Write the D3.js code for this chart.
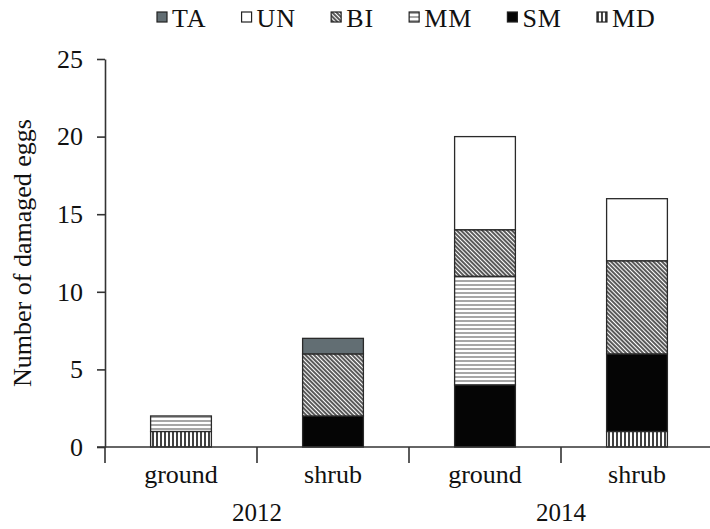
<!DOCTYPE html>
<html>
<head>
<meta charset="utf-8">
<script src="https://cdn.jsdelivr.net/npm/d3@7"></script>
<style>
  body { margin: 0; background: #fff; }
  svg, svg text { font-family: 'Liberation Serif', 'Times New Roman', Times, serif; }
</style>
</head>
<body>
<svg id="chart"></svg>
<script>
// categories
const years = ['2012', '2012', '2014', '2014']
const habitats = ['ground', 'shrub', 'ground', 'shrub']
const yTicks = [0, 5, 10, 15, 20, 25]

// stacked series, bottom to top
const seriesNames = ['MD', 'SM', 'MM', 'BI', 'UN', 'TA']
const MD = [1, 0, 0, 1]
const SM = [0, 2, 4, 5]
const MM = [1, 0, 7, 0]
const BI = [0, 4, 3, 6]
const UN = [0, 0, 6, 4]
const TA = [0, 1, 0, 0]
const legendOrder = ['TA', 'UN', 'BI', 'MM', 'SM', 'MD']

const width = 710
const height = 529
const serif = "'Liberation Serif', 'Times New Roman', Times, serif"

const values = { MD, SM, MM, BI, UN, TA }
const rows = habitats.map((h, i) => {
    const r = { key: years[i] + ' ' + h }
    seriesNames.forEach(s => r[s] = values[s][i])
    return r
})

const svg = d3.select('#chart')
    .attr('width', width)
    .attr('height', height)
    .attr('font-family', serif)

// patterns
const defs = svg.append('defs')

const md = defs.append('pattern').attr('id', 'p-MD')
    .attr('patternUnits', 'userSpaceOnUse').attr('width', 4).attr('height', 4)
md.append('rect').attr('width', 4).attr('height', 4).attr('fill', '#fff')
md.append('line').attr('x1', 1).attr('x2', 1).attr('y1', 0).attr('y2', 4)
    .attr('stroke', '#111').attr('stroke-width', 1.6)

const mm = defs.append('pattern').attr('id', 'p-MM')
    .attr('patternUnits', 'userSpaceOnUse').attr('width', 4).attr('height', 4)
mm.append('rect').attr('width', 4).attr('height', 4).attr('fill', '#fff')
mm.append('line').attr('x1', 0).attr('x2', 4).attr('y1', 1).attr('y2', 1)
    .attr('stroke', '#777').attr('stroke-width', 1.3)

const bi = defs.append('pattern').attr('id', 'p-BI')
    .attr('patternUnits', 'userSpaceOnUse').attr('width', 3).attr('height', 3)
    .attr('patternTransform', 'rotate(-45)')
bi.append('rect').attr('width', 3).attr('height', 3).attr('fill', '#fff')
bi.append('line').attr('x1', 1).attr('x2', 1).attr('y1', 0).attr('y2', 3)
    .attr('stroke', '#222').attr('stroke-width', 1.5)

const fills = {
    MD: 'url(#p-MD)',
    SM: '#050505',
    MM: 'url(#p-MM)',
    BI: 'url(#p-BI)',
    UN: '#ffffff',
    TA: '#626e73'
}

const x = d3.scaleBand()
    .domain(rows.map(d => d.key))
    .range([105, 713])
    .paddingInner(0.6)
    .paddingOuter(0.3)

const y = d3.scaleLinear()
    .domain([0, 25])
    .range([447, 59])

const stacked = d3.stack().keys(seriesNames)(rows)

// bars
svg.append('g')
    .selectAll('g')
    .data(stacked)
    .join('g')
    .attr('fill', d => fills[d.key])
    .selectAll('rect')
    .data(d => d.filter(p => p[1] - p[0] > 0))
    .join('rect')
    .attr('x', d => x(d.data.key))
    .attr('width', x.bandwidth())
    .attr('y', d => y(d[1]))
    .attr('height', d => y(d[0]) - y(d[1]))
    .attr('stroke', '#2a2a2a')
    .attr('stroke-width', 1.3)

// y axis
const yAxis = svg.append('g')
    .attr('transform', 'translate(105,0)')
    .call(d3.axisLeft(y).tickValues(yTicks).tickSize(8).tickSizeOuter(0).tickPadding(14))
yAxis.attr('font-family', serif).attr('font-size', 26)
yAxis.selectAll('path, line').attr('stroke', '#333').attr('stroke-width', 1.6)
yAxis.selectAll('text').attr('fill', '#111')

// x axis line and separators
const step = x.step()
const left = x.range()[0]
svg.append('line')
    .attr('x1', 97).attr('x2', x.range()[1])
    .attr('y1', y(0)).attr('y2', y(0))
    .attr('stroke', '#333').attr('stroke-width', 1.6)
svg.append('g')
    .selectAll('line')
    .data(d3.range(0, rows.length))
    .join('line')
    .attr('x1', i => left + i * step).attr('x2', i => left + i * step)
    .attr('y1', y(0)).attr('y2', y(0) + 16)
    .attr('stroke', '#333').attr('stroke-width', 1.6)

// category labels
svg.append('g')
    .selectAll('text')
    .data(rows)
    .join('text')
    .attr('x', d => x(d.key) + x.bandwidth() / 2)
    .attr('y', 483)
    .attr('text-anchor', 'middle')
    .attr('font-size', 26)
    .attr('fill', '#111')
    .text((d, i) => habitats[i])

// year labels
const yearList = Array.from(new Set(years))
svg.append('g')
    .selectAll('text')
    .data(yearList)
    .join('text')
    .attr('x', yr => {
        const idx = years.indexOf(yr)
        return left + (idx + 1) * step
    })
    .attr('y', 521)
    .attr('text-anchor', 'middle')
    .attr('font-size', 25)
    .attr('fill', '#111')
    .text(yr => yr)

// y title
svg.append('text')
    .attr('transform', `translate(31,${(y(0) + y(25)) / 2}) rotate(-90)`)
    .attr('text-anchor', 'middle')
    .attr('font-size', 26)
    .attr('fill', '#111')
    .text('Number of damaged eggs')

// legend
const legend = svg.append('g')
let lx = 157
legendOrder.forEach(k => {
    const item = legend.append('g').attr('transform', `translate(${lx},0)`)
    item.append('rect')
        .attr('x', 0).attr('y', 12)
        .attr('width', 10).attr('height', 10)
        .attr('fill', fills[k])
        .attr('stroke', '#222').attr('stroke-width', 1.2)
    const t = item.append('text')
        .attr('x', 15).attr('y', 27)
        .attr('font-size', 26)
        .attr('letter-spacing', 1)
        .attr('fill', '#111')
        .text(k)
    lx += 15 + t.node().getComputedTextLength() + 35
})
</script>
</body>
</html>
